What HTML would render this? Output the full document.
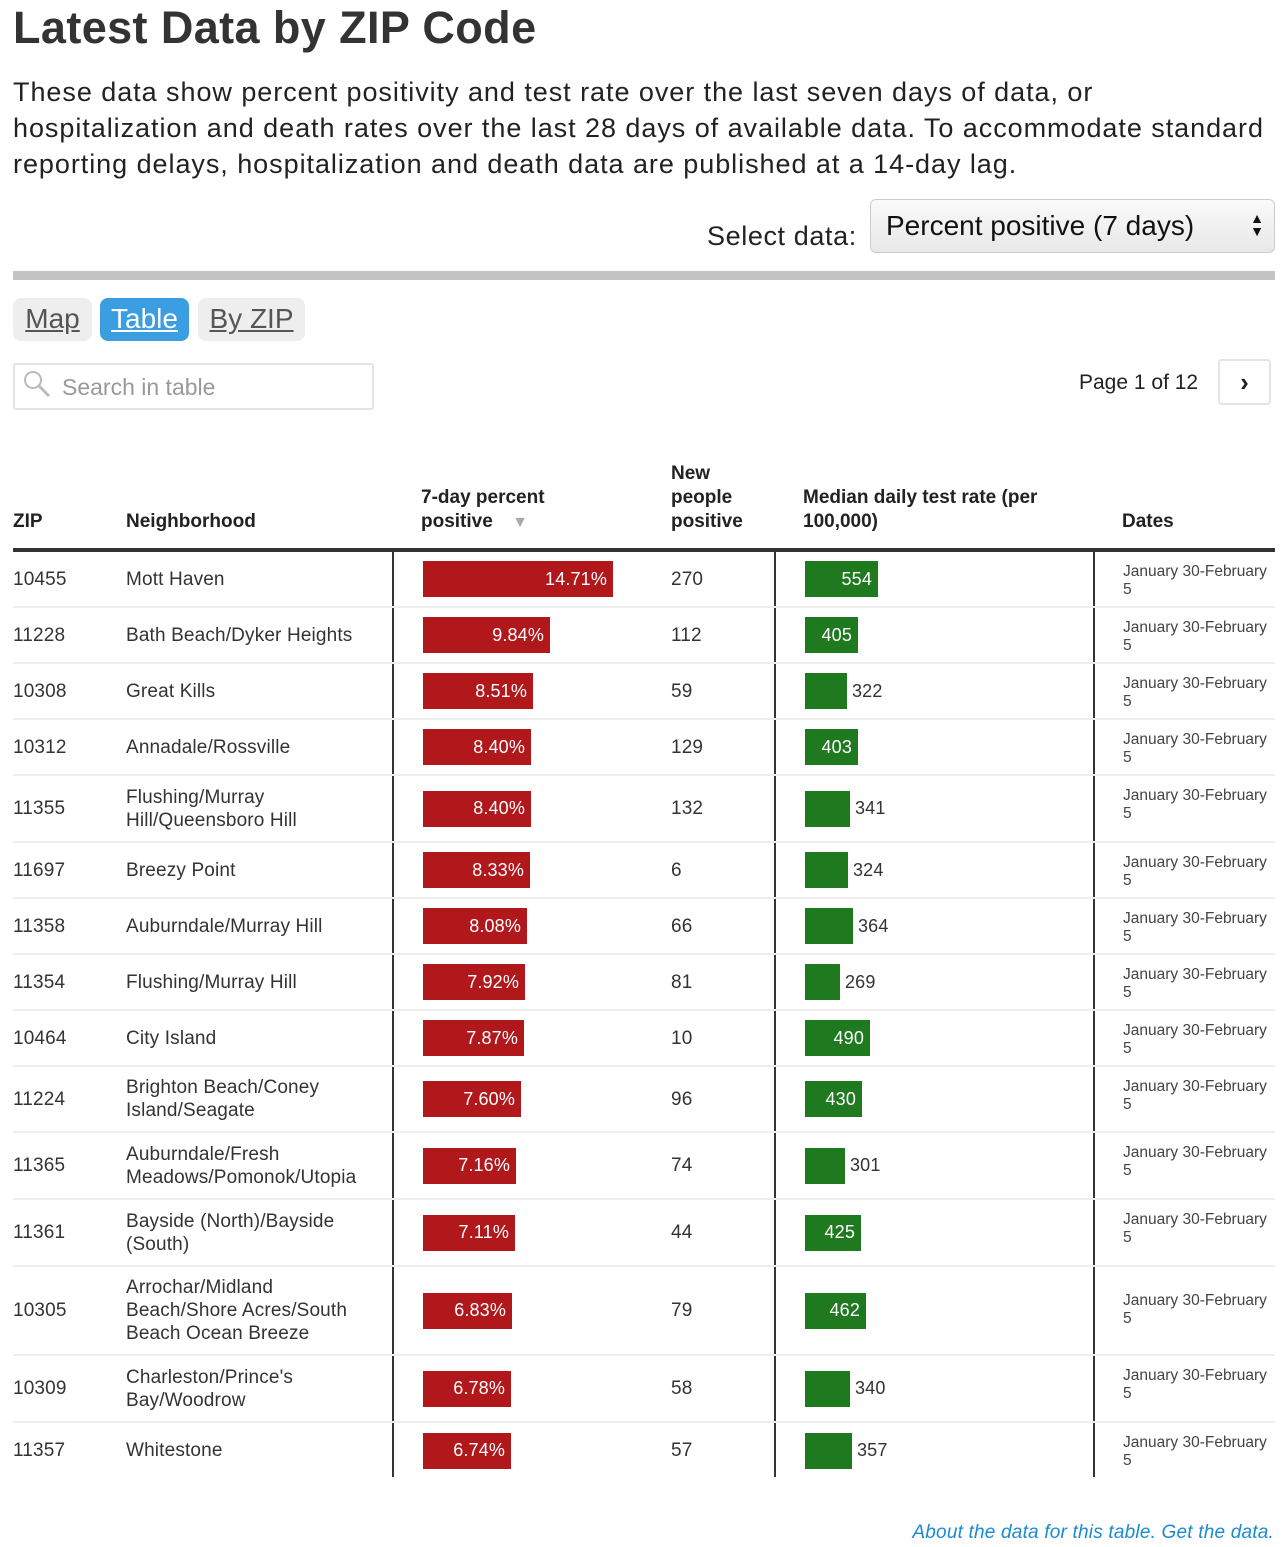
<!DOCTYPE html>
<html><head><meta charset="utf-8"><style>
*{box-sizing:border-box;margin:0;padding:0}
body{width:1286px;height:1547px;background:#fff;font-family:"Liberation Sans",Arial,sans-serif;color:#333;position:relative;overflow:hidden}
.a{position:absolute}
h1{position:absolute;left:13px;top:2px;font-size:45px;font-weight:bold;color:#333;letter-spacing:0.4px}
.intro{left:13px;top:74px;font-size:27px;line-height:36px;color:#222;white-space:nowrap;letter-spacing:0.95px}
.row{position:absolute;left:13px;width:1262px;border-bottom:2px solid #eee}
.row>div{position:absolute;top:0;height:100%;display:flex;align-items:center;font-size:19px;color:#333;line-height:23px;letter-spacing:0.15px}
.z{left:0}.n{left:113px;width:240px}.p{left:410px}.c{left:658px}.g{left:792px}
.d{left:1110px;align-items:flex-start!important;font-size:15.5px!important;line-height:18px!important;padding-top:11px;color:#444!important;width:150px;letter-spacing:0!important}
.rb{height:36px;background:#b0181c;color:#fff;display:flex;align-items:center;justify-content:flex-end;padding-right:6px;font-size:18px}
.gb{height:36px;background:#1f7a1f;color:#fff;display:flex;align-items:center;justify-content:flex-end;padding-right:6px;font-size:18px}
.gl{margin-left:5px;font-size:18px}
.vl{position:absolute;top:552px;height:925px;width:2px;background:#333}
.th{position:absolute;font-size:19px;font-weight:bold;color:#222;line-height:24px}
</style></head><body>
<h1>Latest Data by ZIP Code</h1>
<div class="a intro" id="i1">These data show percent positivity and test rate over the last seven days of data, or<br>hospitalization and death rates over the last 28 days of available data. To accommodate standard<br>reporting delays, hospitalization and death data are published at a 14-day lag.</div>
<div class="a" style="left:707px;top:221px;font-size:27px;color:#222;letter-spacing:0.6px">Select data:</div>
<div class="a" style="left:870px;top:199px;width:405px;height:54px;border:1px solid #ccc;border-radius:6px;background:linear-gradient(#fafafa,#e8e8e8);font-size:28px;color:#111;padding:10px 0 0 15px">Percent positive (7 days)<span style="position:absolute;right:10px;top:12px;font-size:14px;line-height:13px">▲<br>▼</span></div>
<div class="a" style="left:13px;top:271px;width:1262px;height:9px;background:#c4c4c4"></div>
<div class="a" style="left:13px;top:298px;width:79px;height:43px;background:#eee;border-radius:8px;font-size:28px;color:#555;text-decoration:underline;text-align:center;padding-top:5px">Map</div>
<div class="a" style="left:100px;top:298px;width:89px;height:43px;background:#3b9ee0;border-radius:8px;font-size:28px;color:#fff;text-decoration:underline;text-align:center;padding-top:5px">Table</div>
<div class="a" style="left:198px;top:298px;width:107px;height:43px;background:#eee;border-radius:8px;font-size:28px;color:#555;text-decoration:underline;text-align:center;padding-top:5px">By ZIP</div>
<div class="a" style="left:13px;top:363px;width:361px;height:47px;border:2px solid #e4e4e4;border-radius:3px"></div>
<svg class="a" style="left:22px;top:369px" width="30" height="30"><circle cx="11" cy="11" r="8" fill="none" stroke="#bbb" stroke-width="2"/><line x1="17" y1="17" x2="27" y2="27" stroke="#bbb" stroke-width="3"/></svg>
<div class="a" style="left:62px;top:374px;font-size:23px;color:#999">Search in table</div>
<div class="a" style="left:1079px;top:371px;font-size:21px;color:#222">Page 1 of 12</div>
<div class="a" style="left:1218px;top:359px;width:53px;height:46px;border:2px solid #e4e4e4;border-radius:4px;font-size:26px;text-align:center;padding-top:6px;color:#222;font-weight:bold">›</div>
<div class="th" style="left:13px;top:510px">ZIP</div>
<div class="th" style="left:126px;top:510px">Neighborhood</div>
<div class="th" style="left:421px;top:486px">7-day percent<br>positive <span style="color:#aaa;font-size:16px;margin-left:14px">▼</span></div>
<div class="th" style="left:671px;top:462px">New<br>people<br>positive</div>
<div class="th" style="left:803px;top:486px">Median daily test rate (per<br>100,000)</div>
<div class="th" style="left:1122px;top:510px">Dates</div>
<div class="a" style="left:13px;top:548px;width:1262px;height:4px;background:#333"></div>
<div class="vl" style="left:392px"></div><div class="vl" style="left:774px"></div><div class="vl" style="left:1093px"></div>

<div class="row" style="top:552px;height:56px"><div class="z">10455</div><div class="n">Mott Haven</div><div class="p"><div class="rb" style="width:190px">14.71%</div></div><div class="c">270</div><div class="g"><div class="gb" style="width:73px">554</div></div><div class="d">January 30-February 5</div></div>
<div class="row" style="top:608px;height:56px"><div class="z">11228</div><div class="n">Bath Beach/Dyker Heights</div><div class="p"><div class="rb" style="width:127px">9.84%</div></div><div class="c">112</div><div class="g"><div class="gb" style="width:53px">405</div></div><div class="d">January 30-February 5</div></div>
<div class="row" style="top:664px;height:56px"><div class="z">10308</div><div class="n">Great Kills</div><div class="p"><div class="rb" style="width:110px">8.51%</div></div><div class="c">59</div><div class="g"><div class="gb" style="width:42px"></div><span class="gl">322</span></div><div class="d">January 30-February 5</div></div>
<div class="row" style="top:720px;height:56px"><div class="z">10312</div><div class="n">Annadale/Rossville</div><div class="p"><div class="rb" style="width:108px">8.40%</div></div><div class="c">129</div><div class="g"><div class="gb" style="width:53px">403</div></div><div class="d">January 30-February 5</div></div>
<div class="row" style="top:776px;height:67px"><div class="z">11355</div><div class="n">Flushing/Murray Hill/Queensboro Hill</div><div class="p"><div class="rb" style="width:108px">8.40%</div></div><div class="c">132</div><div class="g"><div class="gb" style="width:45px"></div><span class="gl">341</span></div><div class="d">January 30-February 5</div></div>
<div class="row" style="top:843px;height:56px"><div class="z">11697</div><div class="n">Breezy Point</div><div class="p"><div class="rb" style="width:107px">8.33%</div></div><div class="c">6</div><div class="g"><div class="gb" style="width:43px"></div><span class="gl">324</span></div><div class="d">January 30-February 5</div></div>
<div class="row" style="top:899px;height:56px"><div class="z">11358</div><div class="n">Auburndale/Murray Hill</div><div class="p"><div class="rb" style="width:104px">8.08%</div></div><div class="c">66</div><div class="g"><div class="gb" style="width:48px"></div><span class="gl">364</span></div><div class="d">January 30-February 5</div></div>
<div class="row" style="top:955px;height:56px"><div class="z">11354</div><div class="n">Flushing/Murray Hill</div><div class="p"><div class="rb" style="width:102px">7.92%</div></div><div class="c">81</div><div class="g"><div class="gb" style="width:35px"></div><span class="gl">269</span></div><div class="d">January 30-February 5</div></div>
<div class="row" style="top:1011px;height:56px"><div class="z">10464</div><div class="n">City Island</div><div class="p"><div class="rb" style="width:101px">7.87%</div></div><div class="c">10</div><div class="g"><div class="gb" style="width:65px">490</div></div><div class="d">January 30-February 5</div></div>
<div class="row" style="top:1067px;height:66px"><div class="z">11224</div><div class="n">Brighton Beach/Coney Island/Seagate</div><div class="p"><div class="rb" style="width:98px">7.60%</div></div><div class="c">96</div><div class="g"><div class="gb" style="width:57px">430</div></div><div class="d">January 30-February 5</div></div>
<div class="row" style="top:1133px;height:67px"><div class="z">11365</div><div class="n">Auburndale/Fresh Meadows/Pomonok/Utopia</div><div class="p"><div class="rb" style="width:93px">7.16%</div></div><div class="c">74</div><div class="g"><div class="gb" style="width:40px"></div><span class="gl">301</span></div><div class="d">January 30-February 5</div></div>
<div class="row" style="top:1200px;height:67px"><div class="z">11361</div><div class="n">Bayside (North)/Bayside (South)</div><div class="p"><div class="rb" style="width:92px">7.11%</div></div><div class="c">44</div><div class="g"><div class="gb" style="width:56px">425</div></div><div class="d">January 30-February 5</div></div>
<div class="row" style="top:1267px;height:89px"><div class="z">10305</div><div class="n">Arrochar/Midland Beach/Shore Acres/South Beach Ocean Breeze</div><div class="p"><div class="rb" style="width:89px">6.83%</div></div><div class="c">79</div><div class="g"><div class="gb" style="width:61px">462</div></div><div class="d" style="padding-top:25px">January 30-February 5</div></div>
<div class="row" style="top:1356px;height:67px"><div class="z">10309</div><div class="n">Charleston/Prince's Bay/Woodrow</div><div class="p"><div class="rb" style="width:88px">6.78%</div></div><div class="c">58</div><div class="g"><div class="gb" style="width:45px"></div><span class="gl">340</span></div><div class="d">January 30-February 5</div></div>
<div class="row" style="top:1423px;height:55px;border-bottom:none"><div class="z">11357</div><div class="n">Whitestone</div><div class="p"><div class="rb" style="width:88px">6.74%</div></div><div class="c">57</div><div class="g"><div class="gb" style="width:47px"></div><span class="gl">357</span></div><div class="d">January 30-February 5</div></div>

<div class="a" style="right:12px;top:1522px;font-size:19px;color:#1a8ad4;font-style:italic;letter-spacing:0.2px">About the data for this table. Get the data.</div>
</body></html>
